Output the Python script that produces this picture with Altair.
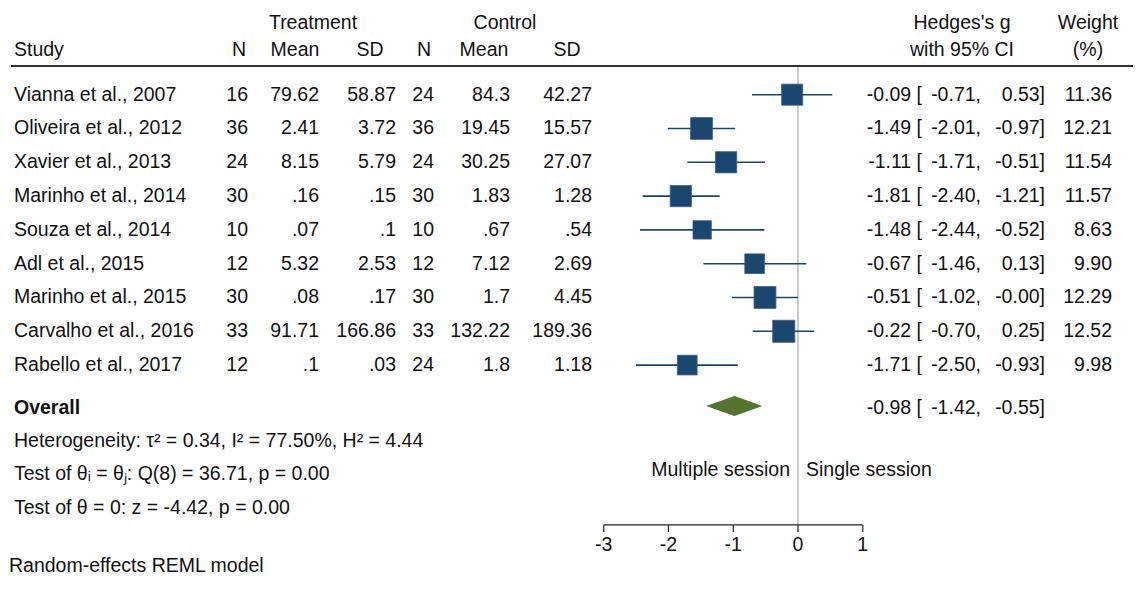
import altair as alt
import pandas as pd

# ---------------- data ----------------
studies = ["Vianna et al., 2007", "Oliveira et al., 2012", "Xavier et al., 2013",
           "Marinho et al., 2014", "Souza et al., 2014", "Adl et al., 2015",
           "Marinho et al., 2015", "Carvalho et al., 2016", "Rabello et al., 2017"]
trt_n = ["16", "36", "24", "30", "10", "12", "30", "33", "12"]
trt_mean = ["79.62", "2.41", "8.15", ".16", ".07", "5.32", ".08", "91.71", ".1"]
trt_sd = ["58.87", "3.72", "5.79", ".15", ".1", "2.53", ".17", "166.86", ".03"]
ctl_n = ["24", "36", "24", "30", "10", "12", "30", "33", "24"]
ctl_mean = ["84.3", "19.45", "30.25", "1.83", ".67", "7.12", "1.7", "132.22", "1.8"]
ctl_sd = ["42.27", "15.57", "27.07", "1.28", ".54", "2.69", "4.45", "189.36", "1.18"]
g = [-0.09, -1.49, -1.11, -1.81, -1.48, -0.67, -0.51, -0.22, -1.71]
lo = [-0.71, -2.01, -1.71, -2.40, -2.44, -1.46, -1.02, -0.70, -2.50]
hi = [0.53, -0.97, -0.51, -1.21, -0.52, 0.13, -0.00, 0.25, -0.93]
weight = [11.36, 12.21, 11.54, 11.57, 8.63, 9.90, 12.29, 12.52, 9.98]
overall_g, overall_lo, overall_hi = -0.98, -1.42, -0.55
ticks = [-3, -2, -1, 0, 1]
stats_lines = ["Heterogeneity: \u03c4\u00b2 = 0.34, I\u00b2 = 77.50%, H\u00b2 = 4.44",
               "Test of \u03b8\u1d62 = \u03b8\u2c7c: Q(8) = 36.71, p = 0.00",
               "Test of \u03b8 = 0: z = -4.42, p = 0.00"]
footnote = "Random-effects REML model"

# ---------------- layout ----------------
W, H = 1130, 573
FONT = "Liberation Sans"
FS = 19.5
NAVY = "#1a476f"
GREEN = "#55752f"

Y_TOP, Y_BOT = -2.565, 14.388          # row units (row spacing)
X_LO, X_HI = -12.2008, 5.2510          # effect-size units spanning the full width
YS = alt.Scale(domain=[Y_TOP, Y_BOT], reverse=True, nice=False, zero=False)
XS = alt.Scale(domain=[X_LO, X_HI], nice=False, zero=False)

Y = lambda f: alt.Y(f, type="quantitative", scale=YS, axis=None, stack=None)
X = lambda f: alt.X(f, type="quantitative", scale=XS, axis=None)

HDR1, HDR2, HLINE = -2.121, -1.322, -0.849
OVR = 9.21
STAT_POS = [10.24, 11.22, 12.23]
SIDE_POS = 11.10
AX_POS, TICK_END, TICKLAB = 12.73, 12.94, 13.32
FOOT_POS = 13.94
rows = list(range(len(studies)))


def text_layer(texts, positions, xpx, align, bold=False, color="#111"):
    df = pd.DataFrame({"text": texts, "pos": positions})
    return alt.Chart(df).mark_text(
        align=align, baseline="middle", font=FONT, fontSize=FS,
        fontWeight="bold" if bold else "normal", color=color
    ).encode(x=alt.value(xpx - 8), y=Y("pos"), text="text:N")


layers = []

# header texts
layers += [
    text_layer(["Treatment"], [HDR1], 313, "center"),
    text_layer(["Control"], [HDR1], 505, "center"),
    text_layer(["Hedges's g"], [HDR1], 962, "center"),
    text_layer(["Weight"], [HDR1], 1088, "center"),
    text_layer(["Study"], [HDR2], 14, "left"),
    text_layer(["N"], [HDR2], 239, "center"),
    text_layer(["Mean"], [HDR2], 295, "center"),
    text_layer(["SD"], [HDR2], 370, "center"),
    text_layer(["N"], [HDR2], 424, "center"),
    text_layer(["Mean"], [HDR2], 484, "center"),
    text_layer(["SD"], [HDR2], 567, "center"),
    text_layer(["with 95% CI"], [HDR2], 962, "center"),
    text_layer(["(%)"], [HDR2], 1088, "center"),
]

# header rule
hl = pd.DataFrame({"pos": [HLINE]})
layers.append(alt.Chart(hl).mark_rule(color="#333", strokeWidth=2).encode(
    x=alt.value(3), x2=alt.value(1125), y=Y("pos")))

# zero line
zl = pd.DataFrame({"x": [0], "y1": [HLINE + 0.03], "y2": [AX_POS]})
layers.append(alt.Chart(zl).mark_rule(color="#9a9a9a", strokeWidth=1).encode(
    x=X("x"), y=Y("y1"), y2="y2:Q"))

# study table columns
layers += [
    text_layer(studies, rows, 14, "left"),
    text_layer(trt_n, rows, 248, "right"),
    text_layer(trt_mean, rows, 319, "right"),
    text_layer(trt_sd, rows, 396, "right"),
    text_layer(ctl_n, rows, 434, "right"),
    text_layer(ctl_mean, rows, 510, "right"),
    text_layer(ctl_sd, rows, 592, "right"),
    text_layer([f"{v:.2f} [" for v in g], rows, 922, "right"),
    text_layer([f"{v:.2f}," for v in lo], rows, 981, "right"),
    text_layer([f"{v:.2f}]" for v in hi], rows, 1045, "right"),
    text_layer([f"{v:.2f}" for v in weight], rows, 1112, "right"),
]

# CI lines and squares
sd = pd.DataFrame({"g": g, "lo": lo, "hi": hi, "w": weight, "pos": rows})
layers.append(alt.Chart(sd).mark_rule(color=NAVY, strokeWidth=1.6).encode(
    x=X("lo"), x2="hi:Q", y=Y("pos")))
layers.append(alt.Chart(sd).transform_calculate(sz="datum.w * 39").mark_square(
    color=NAVY, opacity=1, filled=True, stroke="#3a5d88", strokeWidth=0.8).encode(
    x=X("g"), y=Y("pos"), size=alt.Size("sz:Q", scale=None, legend=None)))

# overall diamond (area between upper and lower edges)
HALF = 0.296
dd = pd.DataFrame({"x": [overall_lo, overall_g, overall_hi],
                   "top": [OVR, OVR - HALF, OVR],
                   "bot": [OVR, OVR + HALF, OVR]})
layers.append(alt.Chart(dd).mark_area(color=GREEN, opacity=1, orient="vertical",
                                      interpolate="linear").encode(
    x=X("x"), y=Y("top"), y2=alt.Y2("bot")))

layers += [
    text_layer(["Overall"], [OVR + 0.05], 14, "left", bold=True),
    text_layer([f"{overall_g:.2f} ["], [OVR + 0.05], 922, "right"),
    text_layer([f"{overall_lo:.2f},"], [OVR + 0.05], 981, "right"),
    text_layer([f"{overall_hi:.2f}]"], [OVR + 0.05], 1045, "right"),
    text_layer(stats_lines, STAT_POS, 14, "left"),
    text_layer([footnote], [FOOT_POS], 9, "left"),
]

# side labels around zero
side = pd.DataFrame({"x": [0, 0], "pos": [SIDE_POS, SIDE_POS],
                     "text": ["Multiple session", "Single session"],
                     "side": ["L", "R"]})
layers.append(alt.Chart(side).transform_filter("datum.side == 'L'").mark_text(
    align="right", baseline="middle", dx=-8, font=FONT, fontSize=FS, color="#111").encode(
    x=X("x"), y=Y("pos"), text="text:N"))
layers.append(alt.Chart(side).transform_filter("datum.side == 'R'").mark_text(
    align="left", baseline="middle", dx=8, font=FONT, fontSize=FS, color="#111").encode(
    x=X("x"), y=Y("pos"), text="text:N"))

# manual x axis
ax = pd.DataFrame({"a": [min(ticks)], "b": [max(ticks)], "pos": [AX_POS]})
layers.append(alt.Chart(ax).mark_rule(color="#222", strokeWidth=1.2).encode(
    x=X("a"), x2="b:Q", y=Y("pos")))
td = pd.DataFrame({"t": ticks, "y1": [AX_POS] * len(ticks), "y2": [TICK_END] * len(ticks),
                   "lab": [str(t) for t in ticks], "ly": [TICKLAB] * len(ticks)})
layers.append(alt.Chart(td).mark_rule(color="#222", strokeWidth=1.2).encode(
    x=X("t"), y=Y("y1"), y2="y2:Q"))
layers.append(alt.Chart(td).mark_text(
    align="center", baseline="middle", font=FONT, fontSize=FS, color="#111").encode(
    x=X("t"), y=Y("ly"), text="lab:N"))

chart = alt.layer(*layers).properties(
    width=W, height=H, padding=0, autosize=alt.AutoSizeParams(type="none"),
    background="white"
).configure_view(stroke=None)

chart.save("out.html", embed_options={"renderer": "svg", "actions": False})
